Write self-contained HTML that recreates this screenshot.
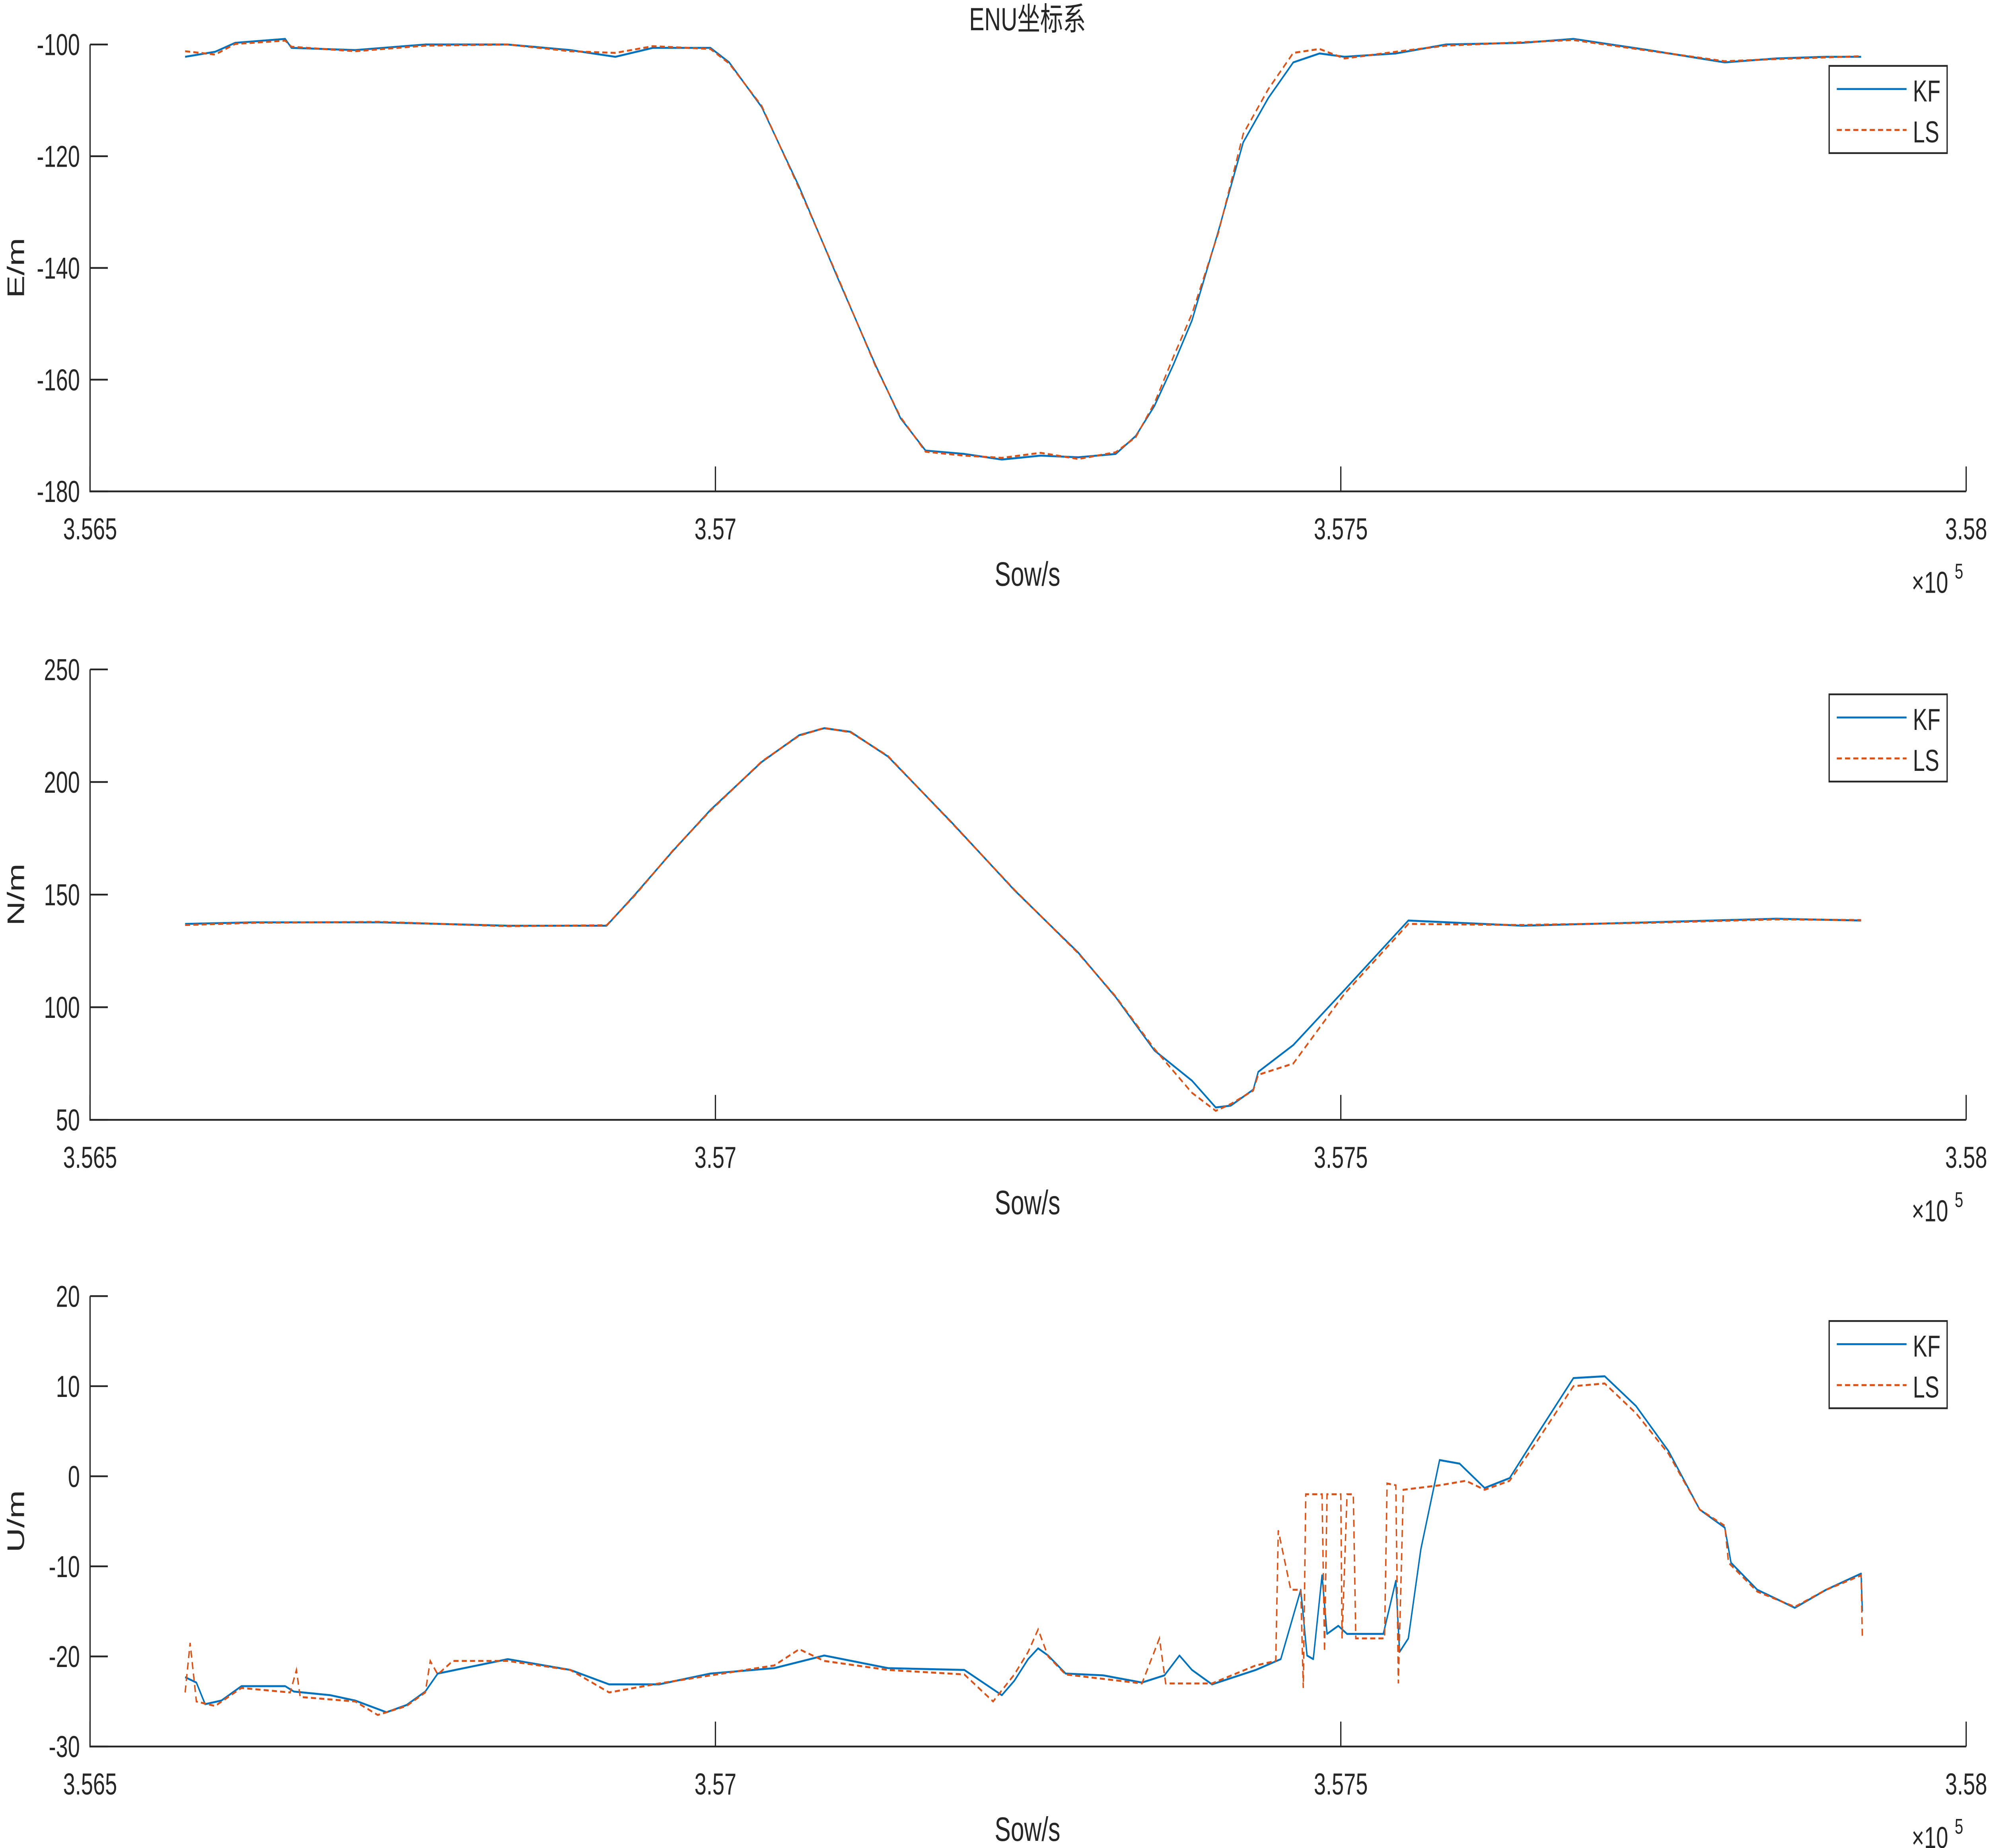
<!DOCTYPE html>
<html><head><meta charset="utf-8"><style>
html,body{margin:0;padding:0;background:#fff;width:100%;height:100%;overflow:hidden;}
svg{display:block;position:fixed;left:0;top:0;width:100vw;height:100vh;}
text{font-family:"Liberation Sans","Noto Sans CJK SC",sans-serif;fill:#262626;}
</style></head><body>
<svg id="svgroot" viewBox="0 0 1568 1038" preserveAspectRatio="none" xmlns="http://www.w3.org/2000/svg">
<g id="fig">
<text x="810" y="17" font-size="18" text-anchor="middle">ENU坐标系</text>
</g>
</svg>
<script>
// Panel 1 (E)
const eTimes=[356576,356600,356616,356656,356661,356712,356768,356834,356884,356920,356950,356996,357011,357037,357067,357097,357128,357148,357168,357199,357229,357260,357290,357320,357336,357351,357366,357381,357402,357422,357442,357462,357483,357503,357544,357584,357645,357686,357746,357807,357848,357888,357916];
const eKF=[-102.2,-101.3,-99.7,-99.0,-100.6,-101,-100,-100,-101,-102.2,-100.6,-100.6,-103.2,-111.2,-125.5,-141.4,-157.4,-166.9,-172.7,-173.3,-174.3,-173.6,-173.9,-173.3,-170.1,-164.7,-157.4,-149.4,-133.5,-117.5,-109.6,-103.2,-101.6,-102.2,-101.6,-100,-99.7,-99,-101,-103.2,-102.5,-102.2,-102.2];
const eLS=[-101.2,-101.8,-99.9,-99.3,-100.4,-101.2,-100.2,-100,-101.2,-101.5,-100.3,-100.8,-103.4,-111.0,-125.8,-141.2,-157.6,-166.7,-172.9,-173.6,-174.0,-173.1,-174.2,-173.0,-170.3,-164.2,-156.0,-148.2,-133.8,-116.0,-108.0,-101.5,-100.8,-102.5,-101.3,-100.2,-99.6,-99.2,-101.1,-103.0,-102.6,-102.3,-102.1];
// Panel 2 (N)
const nTimes=[356576,356631,356732,356834,356913,356935,356966,356996,357037,357067,357087,357108,357138,357189,357239,357290,357320,357351,357381,357400,357412,357430,357434,357462,357503,357554,357645,357746,357848,357916];
const nKF=[137,137.7,137.7,136.2,136.2,149.6,169.4,187.6,208.9,220.8,223.9,222.3,211.3,182,152,124.3,104.5,80.8,67.4,55.5,56.3,63.4,71.3,83.2,107.7,138.5,136.2,137.7,139.3,138.5];
const nLS=[136.5,137.5,137.9,136.0,136.4,149.3,169.6,187.3,209.1,220.6,224.0,222.1,211.5,181.8,152.2,124.0,104.8,81.5,62.0,54.0,57.0,63.0,70.0,75.0,106.0,137.0,136.5,137.5,139.0,138.7];
// Panel 3 (U)
const uTimes=[356576,356585,356592,356605,356621,356656,356663,356692,356712,356737,356753,356768,356778,356834,356884,356915,356955,356996,357047,357087,357138,357199,357229,357239,357250,357258,357266,357280,357310,357341,357359,357371,357381,357397,357432,357452,357468,357473,357478,357485,357489,357498,357505,357513,357534,357544,357547,357554,357564,357579,357595,357615,357635,357655,357686,357711,357736,357762,357787,357807,357812,357833,357863,357888,357916,357917];
const uKF=[-22.3,-22.9,-25.3,-24.9,-23.3,-23.3,-23.9,-24.3,-24.9,-26.2,-25.4,-23.9,-21.9,-20.3,-21.5,-23.1,-23.1,-21.9,-21.3,-19.9,-21.3,-21.5,-24.3,-22.7,-20.3,-19.1,-19.9,-21.9,-22.1,-22.9,-22.1,-19.9,-21.5,-23.1,-21.5,-20.3,-12.6,-19.9,-20.3,-11,-17.5,-16.6,-17.5,-17.5,-17.5,-11.6,-19.5,-18,-8.1,1.8,1.4,-1.3,-0.2,4.2,10.9,11.1,7.8,2.8,-3.7,-5.7,-9.6,-12.6,-14.6,-12.6,-10.8,-15];
const lsUTimes=[356576,356580,356585,356600,356621,356660,356665,356668,356712,356730,356753,356768,356772,356778,356790,356834,356884,356915,356955,357047,357067,357087,357138,357199,357222,357239,357250,357258,357266,357280,357341,357355,357360,357397,357432,357448,357450,357460,357468,357470,357472,357485,357487,357489,357500,357501,357505,357510,357512,357520,357535,357537,357544,357546,357550,357579,357600,357615,357635,357655,357686,357711,357736,357762,357787,357807,357810,357833,357863,357888,357916,357917];
const uLS=[-24,-18.5,-25,-25.5,-23.5,-24,-21.5,-24.5,-25,-26.5,-25.5,-24,-20.5,-22,-20.5,-20.5,-21.5,-24,-23,-21,-19.2,-20.5,-21.5,-22,-25,-22,-19.5,-17,-20,-22,-23,-18,-23,-23,-21,-20.5,-6,-12.6,-12.6,-23.5,-2,-2,-19.5,-2,-2,-18,-2,-2,-18,-18,-18,-0.8,-1,-23,-1.5,-1,-0.5,-1.5,-0.5,3.5,10,10.3,7,2.5,-3.7,-5.5,-9.6,-12.8,-14.5,-12.6,-11,-18];
const xTicks=[356500,357000,357500,358000];
const xTickLabels=["3.565","3.57","3.575","3.58"];

const NS="http://www.w3.org/2000/svg";
const svg=document.getElementById('fig');
function mk(tag,attrs,parent){const e=document.createElementNS(NS,tag);for(const k in attrs)e.setAttribute(k,attrs[k]);(parent||svg).appendChild(e);return e;}
const X0=71,X1=1550;
function xs(t){return X0+(t-356500)/1500*(X1-X0);}

const panels=[
 {key:'e',top:25,bot:276,ymin:-180,ymax:-100,yt:[-180,-160,-140,-120,-100],ylab:'E/m',t1:eTimes,k:eKF,t2:eTimes,l:eLS,leg:37},
 {key:'n',top:376,bot:629,ymin:50,ymax:250,yt:[50,100,150,200,250],ylab:'N/m',t1:nTimes,k:nKF,t2:nTimes,l:nLS,leg:390},
 {key:'u',top:728,bot:981,ymin:-30,ymax:20,yt:[-30,-20,-10,0,10,20],ylab:'U/m',t1:uTimes,k:uKF,t2:lsUTimes,l:uLS,leg:742}
];
panels.forEach(p=>{
 const g=mk('g',{});
 
 
 const ys=v=>p.bot-(v-p.ymin)/(p.ymax-p.ymin)*(p.bot-p.top);
 const ax=mk('path',{d:`M${X0},${p.top}V${p.bot}H${X1}`,fill:'none',stroke:'#262626','stroke-width':1},g);
 
 
 p.yt.forEach(v=>{
  const y=ys(v);
  const tk=mk('line',{x1:X0,x2:X0+14,y1:y,y2:y,stroke:'#262626','stroke-width':1},g);
  
  
  const tl=mk('text',{x:X0-8,y:y+6,'font-size':17,'text-anchor':'end'},g);
  tl.textContent=v;
  
  
 });
 xTicks.forEach((t,i)=>{
  const x=xs(t);
  const tk=mk('line',{x1:x,x2:x,y1:p.bot,y2:p.bot-14,stroke:'#262626','stroke-width':1},g);
  
  
  const tl=mk('text',{x:x,y:p.bot+27,'font-size':17,'text-anchor':'middle'},g);
  tl.textContent=xTickLabels[i];
  
  
 });
 const xl=mk('text',{x:810,y:p.bot+53,'font-size':19,'text-anchor':'middle'},g);
 xl.textContent='Sow/s';
 
 
 const ex=mk('text',{x:1507,y:p.bot+57,'font-size':17},g);
 ex.textContent='×10';
 
 
 const ex2=mk('text',{x:1541,y:p.bot+49,'font-size':12},g);
 ex2.textContent='5';
 
 
 const cy=(p.top+p.bot)/2;
 const yl=mk('text',{x:0,y:0,'font-size':19,'text-anchor':'middle',transform:`translate(19,${cy}) rotate(-90)`},g);
 yl.textContent=p.ylab;
 
 
 const kd=p.t1.map((t,i)=>(i?'L':'M')+xs(t).toFixed(2)+','+ys(p.k[i]).toFixed(2)).join('');
 const ld=p.t2.map((t,i)=>(i?'L':'M')+xs(t).toFixed(2)+','+ys(p.l[i]).toFixed(2)).join('');
 const kp=mk('path',{d:kd,fill:'none',stroke:'#0072BD','stroke-width':1.1,'stroke-linejoin':'round'},g);
 
 
 const lp=mk('path',{d:ld,fill:'none',stroke:'#D95319','stroke-width':1.1,'stroke-dasharray':'4,2.5'},g);
 
 
 const lg=mk('g',{},g);
 
 
 mk('rect',{x:1442,y:p.leg,width:93,height:49,fill:'#fff',stroke:'#262626','stroke-width':1},lg);
 const e1=mk('line',{x1:1448,x2:1503,y1:p.leg+13,y2:p.leg+13,stroke:'#0072BD','stroke-width':1.1},lg);
 
 
 const t1=mk('text',{x:1508,y:p.leg+20,'font-size':17},lg);
 t1.textContent='KF';
 
 
 const e2=mk('line',{x1:1448,x2:1503,y1:p.leg+36,y2:p.leg+36,stroke:'#D95319','stroke-width':1.1,'stroke-dasharray':'4,2.5'},lg);
 
 
 const t2=mk('text',{x:1508,y:p.leg+43,'font-size':17},lg);
 t2.textContent='LS';
 
 
});
</script>
</body></html>
